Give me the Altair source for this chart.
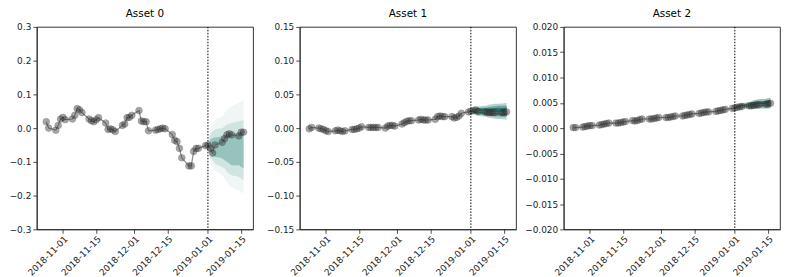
import altair as alt
import pandas as pd

# ---------------- data ----------------
dates = [d.strftime("%Y-%m-%d") for d in pd.bdate_range("2018-10-25", "2019-01-16")]

asset0 = [0.019, 0.000, -0.006, 0.008, 0.027,
          0.032, 0.025, 0.027, 0.038, 0.058, 0.054, 0.046, 0.027, 0.022, 0.019, 0.025, 0.031,
          0.015, -0.004, -0.002, -0.005, -0.010, 0.008, 0.012, 0.031, 0.032, 0.038,
          0.052, 0.021, 0.019, 0.019, -0.008, -0.006, -0.004, -0.002, 0.000, -0.002, -0.019,
          -0.036, -0.040, -0.060, -0.088, -0.112, -0.112, -0.069, -0.060, -0.060, -0.052,
          -0.050, -0.060, -0.074, -0.050, -0.042, -0.031, -0.020, -0.017, -0.020, -0.023, -0.012, -0.012]

asset1 = [-0.001, 0.001, 0.000, -0.001, -0.002,
          -0.004, -0.005, -0.004, -0.003, -0.004, -0.005, -0.004, -0.002, -0.002, -0.001, 0.000, 0.002,
          0.001, 0.001, 0.001, 0.001, 0.001, 0.000, 0.003, 0.004, 0.004, 0.003,
          0.006, 0.008, 0.010, 0.011, 0.011, 0.012, 0.013, 0.012, 0.012, 0.012, 0.013,
          0.017, 0.018, 0.017, 0.017, 0.017, 0.015, 0.016, 0.018, 0.022, 0.024,
          0.025, 0.026, 0.027, 0.025, 0.024, 0.023, 0.023, 0.023, 0.023, 0.023, 0.023, 0.024]

asset2 = [0.0001, 0.0001, 0.0002, 0.0003, 0.0004,
          0.0005, 0.0005, 0.0006, 0.0007, 0.0008, 0.0009, 0.0010, 0.0010, 0.0010, 0.0011, 0.0012, 0.0013,
          0.0015, 0.0014, 0.0015, 0.0017, 0.0018, 0.0018, 0.0018, 0.0019, 0.0020, 0.0021,
          0.0021, 0.0021, 0.0022, 0.0023, 0.0024, 0.0024, 0.0025, 0.0026, 0.0027, 0.0028, 0.0029,
          0.0030, 0.0031, 0.0032, 0.0032, 0.0033, 0.0034, 0.0035, 0.0036, 0.0037, 0.0039,
          0.0040, 0.0041, 0.0042, 0.0043, 0.0044, 0.0044, 0.0045, 0.0046, 0.0046, 0.0047, 0.0048, 0.0049]

fc_dates = [d.strftime("%Y-%m-%d") for d in pd.bdate_range("2019-01-01", "2019-01-16")]

fan0 = {
    "lo1": [-0.05, -0.10, -0.115, -0.125, -0.14, -0.15, -0.16, -0.17, -0.175, -0.185, -0.19, -0.195],
    "hi1": [-0.05, 0.00, 0.015, 0.025, 0.035, 0.045, 0.055, 0.06, 0.065, 0.075, 0.08, 0.085],
    "lo2": [-0.05, -0.085, -0.095, -0.105, -0.115, -0.12, -0.13, -0.135, -0.14, -0.145, -0.15, -0.155],
    "hi2": [-0.05, -0.02, -0.01, -0.005, 0.0, 0.005, 0.01, 0.012, 0.015, 0.02, 0.022, 0.025],
    "lo3": [-0.05, -0.07, -0.08, -0.085, -0.09, -0.095, -0.10, -0.105, -0.11, -0.11, -0.115, -0.12],
    "hi3": [-0.05, -0.035, -0.03, -0.028, -0.025, -0.022, -0.02, -0.02, -0.018, -0.015, -0.015, -0.015],
}
fan1 = {
    "lo1": [0.025, 0.021, 0.019, 0.018, 0.017, 0.016, 0.015, 0.0145, 0.014, 0.0135, 0.013, 0.0125],
    "hi1": [0.025, 0.029, 0.031, 0.032, 0.033, 0.034, 0.035, 0.0355, 0.036, 0.0365, 0.037, 0.0375],
    "lo2": [0.025, 0.023, 0.021, 0.020, 0.0195, 0.019, 0.0185, 0.018, 0.0175, 0.017, 0.017, 0.0165],
    "hi2": [0.025, 0.028, 0.029, 0.030, 0.0305, 0.031, 0.0315, 0.032, 0.0325, 0.033, 0.033, 0.0335],
    "lo3": [0.025, 0.024, 0.0225, 0.022, 0.0215, 0.021, 0.0205, 0.020, 0.020, 0.0195, 0.0195, 0.019],
    "hi3": [0.025, 0.027, 0.028, 0.0285, 0.029, 0.029, 0.0295, 0.0295, 0.030, 0.030, 0.030, 0.0305],
}
fan2 = {
    "lo1": [0.0040, 0.0039, 0.0039, 0.0039, 0.0039, 0.0039, 0.0039, 0.0039, 0.0039, 0.0039, 0.0039, 0.0039],
    "hi1": [0.0040, 0.0045, 0.0047, 0.0049, 0.0051, 0.0053, 0.0055, 0.0056, 0.0057, 0.0058, 0.0059, 0.0060],
    "lo2": [0.0040, 0.0040, 0.0040, 0.0041, 0.0041, 0.0041, 0.0042, 0.0042, 0.0042, 0.0043, 0.0043, 0.0043],
    "hi2": [0.0040, 0.0044, 0.0045, 0.0047, 0.0048, 0.0050, 0.0051, 0.0052, 0.0053, 0.0054, 0.0055, 0.0056],
    "lo3": [0.0040, 0.0041, 0.0042, 0.0042, 0.0043, 0.0043, 0.0044, 0.0044, 0.0045, 0.0045, 0.0046, 0.0046],
    "hi3": [0.0040, 0.0043, 0.0044, 0.0045, 0.0046, 0.0047, 0.0048, 0.0049, 0.0050, 0.0051, 0.0052, 0.0053],
}

titles = ["Asset 0", "Asset 1", "Asset 2"]
y_ticks = [
    [-0.3, -0.2, -0.1, 0.0, 0.1, 0.2, 0.3],
    [-0.15, -0.10, -0.05, 0.0, 0.05, 0.10, 0.15],
    [-0.020, -0.015, -0.010, -0.005, 0.0, 0.005, 0.010, 0.015, 0.020],
]
y_formats = [".1f", ".2f", ".3f"]
x_tick_dates = [(2018, 11, 1), (2018, 11, 15), (2018, 12, 1), (2018, 12, 15), (2019, 1, 1), (2019, 1, 15)]
split_date = "2019-01-01"

# ---------------- chart ----------------
TEALS = ["#1f7f74", "#17695f", "#135e55"]
fan_opacity = [(0.07, 0.15, 0.32), (0.3, 0.45, 0.75), (0.4, 0.6, 0.85)]


def dt(y, m, d):
    return alt.DateTime(year=y, month=m, date=d, utc=True)


def panel(i, values, fan, extent):
    lim = y_ticks[i][-1]
    o1, o2, o3 = fan_opacity[i]
    teal = TEALS[i]
    xscale = alt.Scale(type="utc", domain=[dt(2018, 10, 21), dt(2019, 1, 20)])
    xaxis = alt.Axis(values=[dt(*t) for t in x_tick_dates], format="%Y-%m-%d",
                     labelAngle=315, labelAlign="right", labelBaseline="top",
                     labelOverlap=False, labelFlush=False,
                     grid=False, tickSize=4, labelPadding=1)
    yscale = alt.Scale(domain=[-lim, lim], nice=False, zero=False)
    yaxis = alt.Axis(values=y_ticks[i], format=y_formats[i], grid=False, tickSize=4,
                     labelOverlap=False, labelFlush=False,
                     labelPadding=2, minExtent=extent, maxExtent=extent)

    def X():
        return alt.X("date:T", title=None, scale=xscale, axis=xaxis)

    def Y(field):
        return alt.Y(field, title=None, scale=yscale, axis=yaxis)

    hist = pd.DataFrame({"date": dates, "value": values})
    fdf = pd.DataFrame({"date": fc_dates, **fan})

    base_f = alt.Chart(fdf)
    a1 = base_f.mark_area(color=teal, opacity=o1, interpolate="monotone").encode(
        x=X(), y=Y("lo1:Q"), y2="hi1:Q")
    a2 = base_f.mark_area(color=teal, opacity=o2, interpolate="monotone").encode(
        x=X(), y=Y("lo2:Q"), y2="hi2:Q")
    a3 = base_f.mark_area(color=teal, opacity=o3, interpolate="monotone").encode(
        x=X(), y=Y("lo3:Q"), y2="hi3:Q")

    base_h = alt.Chart(hist)
    line = base_h.mark_line(color="#808080", strokeWidth=1.2, opacity=0.9).encode(
        x=X(), y=Y("value:Q"))
    pts = base_h.mark_point(filled=True, shape="circle", size=44, color="#3c3c3c",
                            opacity=0.45, stroke="#1a1a1a", strokeWidth=0.8).encode(
        x=X(), y=Y("value:Q"))

    rule = alt.Chart(pd.DataFrame({"date": [split_date]})).mark_rule(
        color="black", strokeDash=[1.5, 1.5], strokeWidth=1).encode(x=X())

    return alt.layer(a1, a2, a3, line, pts, rule).properties(
        width=218, height=204,
        title=alt.TitleParams(titles[i], fontSize=10.5, fontWeight="normal",
                              font="DejaVu Sans", color="black", offset=3),
    )


chart = alt.hconcat(
    panel(0, asset0, fan0, 27),
    panel(1, asset1, fan1, 39),
    panel(2, asset2, fan2, 40),
    spacing=6,
).configure_view(stroke="black", strokeWidth=0.8).configure_axis(
    labelFont="DejaVu Sans", labelFontSize=9, labelColor="#222",
    tickColor="#222", domainColor="#222", domainWidth=0.8, tickWidth=0.8,
    labelOverlap=False,
).properties(padding={"left": 0, "top": 0, "right": 0, "bottom": 0})

chart.save("out.html", embed_options={"renderer": "svg", "actions": False})
